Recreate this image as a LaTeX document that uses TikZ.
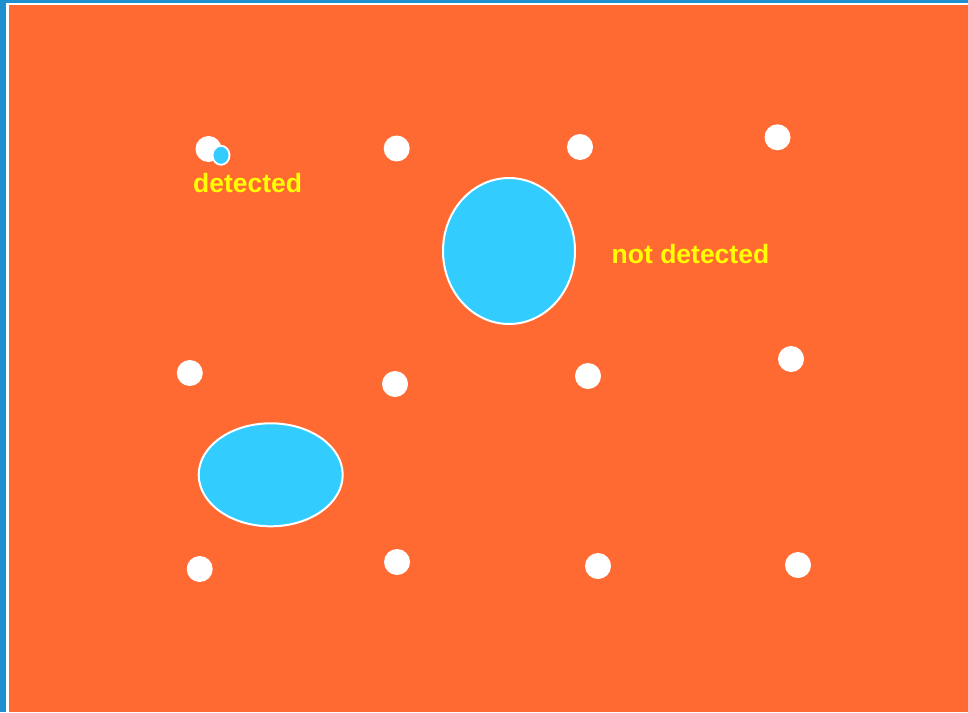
\documentclass[tikz,border=0pt]{standalone}
\usepackage{fontspec}
\setmainfont{Liberation Sans}
\usetikzlibrary{shapes.geometric}
\definecolor{bgorange}{HTML}{FF6A33}
\definecolor{frameblue}{HTML}{1E8FCF}
\definecolor{lightblue}{HTML}{33CCFF}
\definecolor{labelyellow}{HTML}{FFFF00}
\begin{document}
\begin{tikzpicture}[x=1pt,y=-1pt,
  dot/.style={circle,fill=white,draw=none,minimum size=26pt,inner sep=0pt},
  blob/.style={ellipse,fill=lightblue,draw=white,line width=2pt,inner sep=0pt},
  lbl/.style={text=labelyellow,font=\fontsize{26.5pt}{30pt}\selectfont\bfseries,inner sep=0pt}]
\useasboundingbox (0,0) rectangle (968,712);
\fill[frameblue] (0,0) rectangle (968,712);
\fill[white] (6,3) rectangle (968,712);
\fill[bgorange] (9,5) rectangle (968,712);
% dots
\node[dot] (d11) at (208.5,149) {};
\node[dot] (d12) at (396.7,148.5) {};
\node[dot] (d13) at (580,147) {};
\node[dot] (d14) at (777.5,137.3) {};
\node[dot] (d21) at (189.8,373) {};
\node[dot] (d22) at (395,384) {};
\node[dot] (d23) at (588,376) {};
\node[dot] (d24) at (791,359) {};
\node[dot] (d31) at (199.7,569) {};
\node[dot] (d32) at (397,562) {};
\node[dot] (d33) at (598,566) {};
\node[dot] (d34) at (798,565) {};
% small detected blob
\node[ellipse,fill=lightblue,draw=white,line width=1.8pt,minimum width=17pt,minimum height=19pt,inner sep=0pt] (small) at (221,155.3) {};
% large blobs
\node[blob,minimum width=132pt,minimum height=146pt] (big) at (509,251) {};
\node[blob,minimum width=144pt,minimum height=103pt] (low) at (270.7,474.8) {};
% labels
\node[lbl,anchor=base west] (ldet) at (193,192.5) {detected};
\node[lbl,anchor=base west] (lnot) at (611.5,263) {not detected};
\end{tikzpicture}
\end{document}
